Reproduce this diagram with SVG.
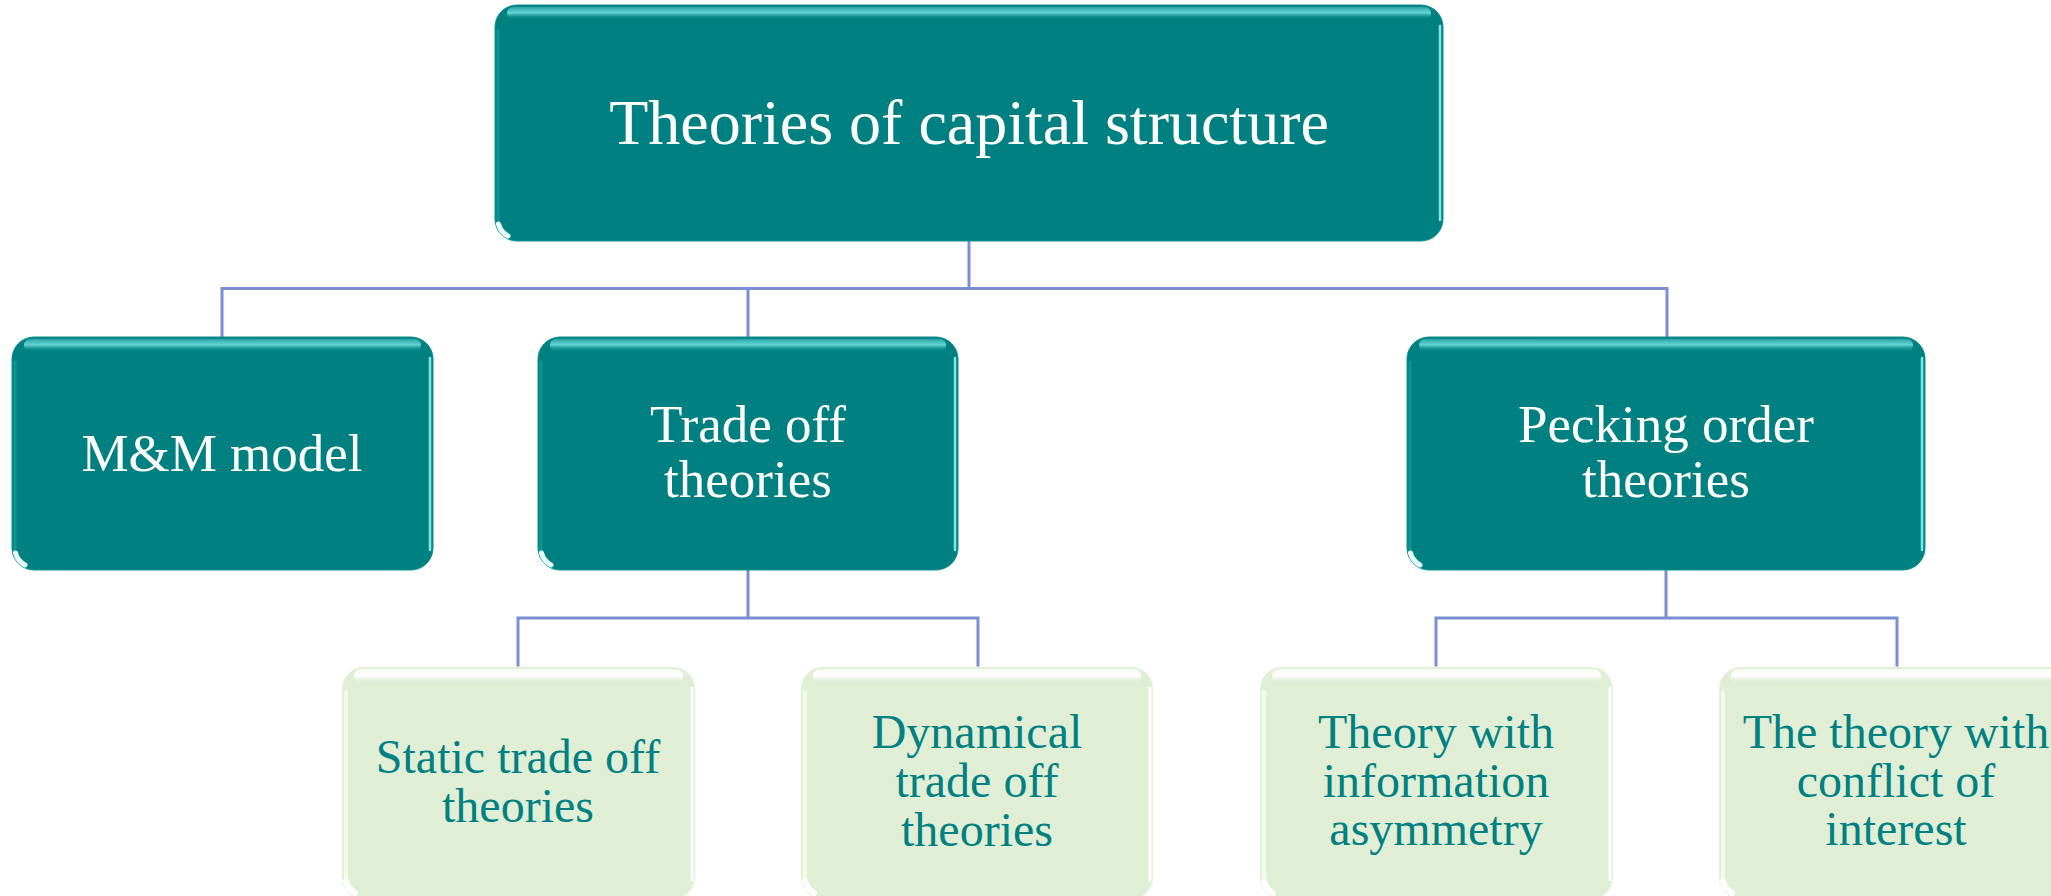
<svg xmlns="http://www.w3.org/2000/svg" width="2051" height="896" viewBox="0 0 2051 896">
<defs>
<linearGradient id="tShine" x1="0" y1="0" x2="0" y2="1">
<stop offset="0" stop-color="#2aa6a6"/>
<stop offset="0.45" stop-color="#66d4d4"/>
<stop offset="1" stop-color="#008080" stop-opacity="0"/>
</linearGradient>
<linearGradient id="gShine" x1="0" y1="0" x2="0" y2="1">
<stop offset="0" stop-color="#f4fbef"/>
<stop offset="0.45" stop-color="#ffffff"/>
<stop offset="1" stop-color="#e0eed6" stop-opacity="0"/>
</linearGradient>
</defs>
<style>
.teal{fill:#008080;stroke:#0a8f8f;stroke-width:1}
.green{fill:#e0eed6;stroke:#eef7e8;stroke-width:1}
.tshine{fill:url(#tShine)}
.gshine{fill:url(#gShine)}
.tedge{fill:none;stroke:#7fe6e6;stroke-width:2.5;stroke-linecap:round}
.tedgeL{fill:none;stroke:#1b9a9a;stroke-width:3;stroke-linecap:round;opacity:0.7}
.gedge{fill:none;stroke:#ffffff;stroke-width:3;stroke-linecap:round}
.gedgeL{fill:none;stroke:#f2fbea;stroke-width:4;stroke-linecap:round}
.tc{fill:none;stroke:#e6ffff;stroke-width:5;stroke-linecap:round}
.gc{fill:none;stroke:#ffffff;stroke-width:6;stroke-linecap:round}
.conn{fill:none;stroke:#7b8ed2;stroke-width:3}
.tw{font-family:"Liberation Serif","Times New Roman",serif;fill:#ffffff;text-anchor:middle}
.tg{font-family:"Liberation Serif","Times New Roman",serif;fill:#008080;text-anchor:middle;font-size:48px}
.l1{font-size:64px}
.l2{font-size:53px}
</style>

<g id="connectors">
<path class="conn" d="M969 241 V288.5"/>
<path class="conn" d="M222 337 V288.5 H1667 V337"/>
<path class="conn" d="M748 288.5 V337"/>
<path class="conn" d="M748 570 V618"/>
<path class="conn" d="M518 667 V618 H978 V667"/>
<path class="conn" d="M1666 570 V618"/>
<path class="conn" d="M1436 667 V618 H1897 V667"/>
</g>

<g id="root">
<rect class="teal" x="495" y="5" width="948" height="236" rx="22"/>
<rect class="tshine" x="507" y="7" width="924" height="13" rx="6"/>
<path class="tedge" d="M1440 26 V220"/>
<path class="tedgeL" d="M498 30 V220"/>
<path class="tc" d="M498.5 224 A19 19 0 0 0 508 236"/>
<text class="tw l1" x="969" y="144">Theories of capital structure</text>
</g>

<g id="mm">
<rect class="teal" x="12" y="337" width="421" height="233" rx="22"/>
<rect class="tshine" x="24" y="339" width="397" height="13" rx="6"/>
<path class="tedge" d="M430 358 V550"/>
<path class="tedgeL" d="M15 362 V550"/>
<path class="tc" d="M15.5 553 A19 19 0 0 0 25 565"/>
<text class="tw l2" x="222" y="471">M&amp;M model</text>
</g>

<g id="tradeoff">
<rect class="teal" x="538" y="337" width="420" height="233" rx="22"/>
<rect class="tshine" x="550" y="339" width="396" height="13" rx="6"/>
<path class="tedge" d="M955 358 V550"/>
<path class="tedgeL" d="M541 362 V550"/>
<path class="tc" d="M541.5 553 A19 19 0 0 0 551 565"/>
<text class="tw l2" x="748" y="442">Trade off</text>
<text class="tw l2" x="748" y="497">theories</text>
</g>

<g id="pecking">
<rect class="teal" x="1407" y="337" width="518" height="233" rx="22"/>
<rect class="tshine" x="1419" y="339" width="494" height="13" rx="6"/>
<path class="tedge" d="M1922 358 V550"/>
<path class="tedgeL" d="M1410 362 V550"/>
<path class="tc" d="M1410.5 553 A19 19 0 0 0 1420 565"/>
<text class="tw l2" x="1666" y="442">Pecking order</text>
<text class="tw l2" x="1666" y="497">theories</text>
</g>

<g id="static">
<rect class="green" x="342" y="667" width="353" height="232" rx="22"/>
<rect class="gshine" x="354" y="669" width="329" height="15" rx="7"/>
<path class="gedge" d="M692 688 V880"/>
<path class="gedgeL" d="M346 692 V880"/>
<path class="gc" d="M346 881 A19 19 0 0 0 355 893"/>
<text class="tg" x="518" y="773">Static trade off</text>
<text class="tg" x="518" y="822">theories</text>
</g>

<g id="dynamical">
<rect class="green" x="801" y="667" width="352" height="232" rx="22"/>
<rect class="gshine" x="813" y="669" width="328" height="15" rx="7"/>
<path class="gedge" d="M1150 688 V880"/>
<path class="gedgeL" d="M805 692 V880"/>
<path class="gc" d="M805 881 A19 19 0 0 0 814 893"/>
<text class="tg" x="977" y="748">Dynamical</text>
<text class="tg" x="977" y="797">trade off</text>
<text class="tg" x="977" y="846">theories</text>
</g>

<g id="asymmetry">
<rect class="green" x="1260" y="667" width="353" height="232" rx="22"/>
<rect class="gshine" x="1272" y="669" width="329" height="15" rx="7"/>
<path class="gedge" d="M1610 688 V880"/>
<path class="gedgeL" d="M1264 692 V880"/>
<path class="gc" d="M1264 881 A19 19 0 0 0 1273 893"/>
<text class="tg" x="1436" y="748">Theory with</text>
<text class="tg" x="1436" y="797">information</text>
<text class="tg" x="1436" y="845">asymmetry</text>
</g>

<g id="conflict">
<rect class="green" x="1719" y="667" width="353" height="232" rx="22"/>
<rect class="gshine" x="1731" y="669" width="329" height="15" rx="7"/>
<path class="gedgeL" d="M1723 692 V880"/>
<path class="gc" d="M1723 881 A19 19 0 0 0 1732 893"/>
<text class="tg" x="1896" y="748">The theory with</text>
<text class="tg" x="1896" y="797">conflict of</text>
<text class="tg" x="1896" y="845">interest</text>
</g>
</svg>
